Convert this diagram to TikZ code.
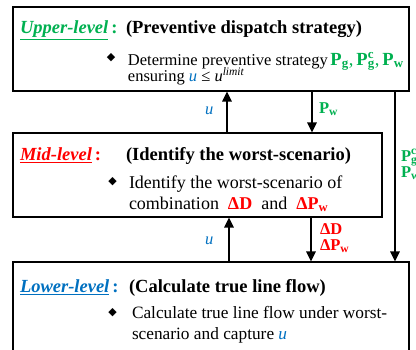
\documentclass[tikz,border=0pt]{standalone}
\usepackage{fontspec}
\setmainfont{Liberation Serif}
\newfontfamily\symfont{DejaVu Sans}
\usetikzlibrary{arrows.meta}
\definecolor{cgreen}{RGB}{0,176,80}
\definecolor{cblue}{RGB}{0,112,192}
\definecolor{cred}{RGB}{255,0,0}
\newcommand{\myttlfont}{\fontsize{18.5}{21}\selectfont\bfseries}
\newcommand{\myupfont}{\fontsize{16.5}{18}\selectfont}
\newcommand{\mymidfont}{\fontsize{18}{20}\selectfont}
\newcommand{\mylowfont}{\fontsize{17.3}{19}\selectfont}
\newcommand{\Pg}{\textbf{P}\textsubscript{\textbf{g}}}
\newcommand{\Pw}{\textbf{P}\textsubscript{\textbf{w}}}
\newcommand{\Pgc}{\textbf{P}\makebox[0pt][l]{\textsuperscript{\textbf{c}}}\textsubscript{\textbf{g}}}
\newcommand{\mysup}[1]{\raisebox{0.33em}{\fontsize{11.5}{12}\selectfont #1}}
\tikzset{
  box/.style={draw, line width=1.2pt, inner sep=0pt},
  txt/.style={anchor=base west, inner sep=0pt, outer sep=0pt},
  ttl/.style={anchor=base west, inner sep=0pt, outer sep=0pt, font=\myttlfont},
  lbl/.style={anchor=base west, inner sep=0pt, outer sep=0pt, font=\myupfont},
  bul/.style={inner sep=0pt, font=\symfont\fontsize{11}{11}\selectfont},
  arr/.style={line width=1.4pt, -{Triangle[length=10pt,width=9.5pt]}}
}
\begin{document}
\begin{tikzpicture}[x=1pt,y=-1pt]
\useasboundingbox (0,0) rectangle (416,349);
% boxes
\node[box, minimum width=396pt, minimum height=84pt] (upper) at (211,49) {};
\node[box, minimum width=369pt, minimum height=84pt] (mid) at (197.5,175) {};
\node[box, minimum width=396pt, minimum height=89pt] (lower) at (211,306.5) {};
% x positions of connectors
\coordinate (xa) at (227,0);
\coordinate (xb) at (312,0);
\coordinate (xc) at (395,0);
\coordinate (xd) at (229,0);
\coordinate (xe) at (311,0);
% upper texts
\node[ttl] (t1) at (20,33.5) {\textcolor{cgreen}{\underline{\textit{Upper-level}}\,:}};
\node[ttl] (t1b) at (126,33.5) {(Preventive dispatch strategy)};
\node[bul] (b1) at (111,58) {◆};
\node[txt, font=\myupfont] (l1a) at (128,65) {Determine preventive strategy\,{\fontsize{18.5}{20}\selectfont\textcolor{cgreen}{\Pg,\,\Pgc,\,\Pw}}};
\node[txt, font=\myupfont] (l1b) at (128,81) {ensuring \textcolor{cblue}{\textit{u}} ≤ \textit{u}\mysup{\textit{limit}}};
% mid texts
\node[ttl] (t2) at (20,160.5) {\textcolor{cred}{\underline{\textit{Mid-level}}\,:}};
\node[ttl] (t2b) at (126,160.5) {(Identify the worst-scenario)};
\node[bul] (b2) at (112.5,182) {◆};
\node[txt, font=\mymidfont] (l2a) at (129,188) {Identify the worst-scenario of};
\node[txt, font=\mymidfont] (l2b) at (129,209) {combination\ \ \textcolor{cred}{\textbf{ΔD}}\ \ and\ \ \textcolor{cred}{\textbf{Δ\Pw}}};
% lower texts
\node[ttl] (t3) at (20,292.5) {\textcolor{cblue}{\underline{\textit{Lower-level}}\,:}};
\node[ttl] (t3b) at (129,292.5) {(Calculate true line flow)};
\node[bul] (b3) at (112.5,313) {◆};
\node[txt, font=\mylowfont] (l3a) at (132,318) {Calculate true line flow under worst-};
\node[txt, font=\mylowfont] (l3b) at (132,339) {scenario and capture \textcolor{cblue}{\textit{u}}};
% connectors
\draw[arr] (mid.north -| xa) -- (upper.south -| xa);
\draw[arr] (upper.south -| xb) -- (mid.north -| xb);
\draw[arr] (upper.south -| xc) -- (lower.north -| xc);
\draw[arr] (lower.north -| xd) -- (mid.south -| xd);
\draw[arr] (mid.south -| xe) -- (lower.north -| xe);
% connector labels
\node[lbl] (u1) at (205,114) {\textcolor{cblue}{\textit{u}}};
\node[lbl] (p1) at (319,113) {\textcolor{cgreen}{\Pw}};
\node[lbl] (p2) at (401,161) {\textcolor{cgreen}{\Pgc}};
\node[lbl] (p3) at (401,177) {\textcolor{cgreen}{\Pw}};
\node[lbl] (u2) at (205,244) {\textcolor{cblue}{\textit{u}}};
\node[lbl] (d1) at (320,234) {\textcolor{cred}{\textbf{ΔD}}};
\node[lbl] (d2) at (320,250) {\textcolor{cred}{\textbf{Δ\Pw}}};
\end{tikzpicture}
\end{document}
